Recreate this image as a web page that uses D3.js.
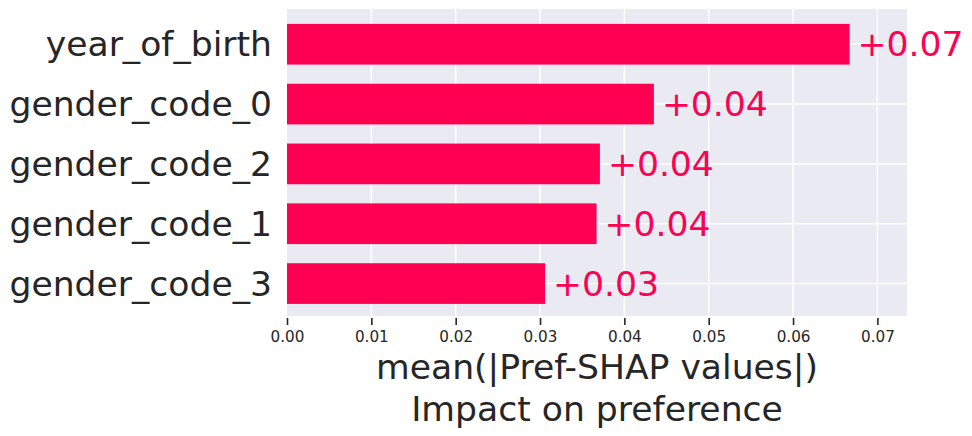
<!DOCTYPE html>
<html>
<head>
<meta charset="utf-8">
<script src="https://cdn.jsdelivr.net/npm/d3@7"></script>
<style>
  body { margin: 0; background: #fff; }
  svg { display: block; font-family: "DejaVu Sans", sans-serif; }
</style>
</head>
<body>
<div id="chart"></div>
<script>
// feature names, top to bottom
const features = ["year_of_birth", "gender_code_0", "gender_code_2", "gender_code_1", "gender_code_3"]
const meanAbsShap = [0.0667, 0.0435, 0.0371, 0.0367, 0.0306]
const valueLabels = ["+0.07", "+0.04", "+0.04", "+0.04", "+0.03"]
const xTicks = [0, 0.01, 0.02, 0.03, 0.04, 0.05, 0.06, 0.07]
const xTitle = ["mean(|Pref-SHAP values|)", "Impact on preference"]

const width = 972, height = 436
const margin = ({top: 9, right: 65, bottom: 120, left: 287})
const barColor = "#ff0052"
const bigFont = 34.6

const svg = d3.select("#chart").append("svg")
    .attr("width", width)
    .attr("height", height)

const xScale = d3.scaleLinear()
    .domain([0, 0.07351])
    .range([margin.left, width - margin.right])

const yScale = d3.scaleLinear()
    .domain([-0.589, features.length - 1 + 0.542])
    .range([margin.top, height - margin.bottom])

const plotBottom = height - margin.bottom

// background
svg.append("rect")
    .attr("x", margin.left)
    .attr("y", margin.top)
    .attr("width", xScale.range()[1] - margin.left)
    .attr("height", plotBottom - margin.top)
    .attr("fill", "#eaeaf2")

// grid
svg.append("g")
    .selectAll("line")
    .data(xTicks.slice(1))
    .join("line")
    .attr("x1", d => xScale(d))
    .attr("x2", d => xScale(d))
    .attr("y1", margin.top)
    .attr("y2", plotBottom)
    .attr("stroke", "#fff")
    .attr("stroke-width", 1.5)
svg.append("g")
    .selectAll("line")
    .data(features)
    .join("line")
    .attr("x1", margin.left)
    .attr("x2", xScale.range()[1])
    .attr("y1", (d, i) => yScale(i))
    .attr("y2", (d, i) => yScale(i))
    .attr("stroke", "#fff")
    .attr("stroke-width", 1.5)

// bars
const barH = yScale(0.68) - yScale(0)
svg.append("g")
    .selectAll("rect")
    .data(meanAbsShap)
    .join("rect")
    .attr("x", xScale(0))
    .attr("y", (d, i) => yScale(i) - barH / 2)
    .attr("width", d => xScale(d) - xScale(0))
    .attr("height", barH)
    .attr("fill", barColor)

// value labels
svg.append("g")
    .selectAll("text")
    .data(meanAbsShap)
    .join("text")
    .attr("x", d => xScale(d) + 8)
    .attr("y", (d, i) => yScale(i))
    .attr("dy", "0.35em")
    .attr("fill", barColor)
    .attr("font-size", bigFont)
    .text((d, i) => valueLabels[i])

// feature labels
svg.append("g")
    .selectAll("text")
    .data(features)
    .join("text")
    .attr("x", margin.left - 15)
    .attr("y", (d, i) => yScale(i))
    .attr("dy", "0.35em")
    .attr("text-anchor", "end")
    .attr("fill", "#262626")
    .attr("font-size", bigFont)
    .text(d => d)

// x axis
const xAxis = d3.axisBottom(xScale)
    .tickValues(xTicks)
    .tickFormat(d3.format(".2f"))
    .tickSize(7)
    .tickPadding(6)
const gx = svg.append("g")
    .attr("transform", `translate(0, ${plotBottom + 2})`)
    .call(xAxis)
gx.select(".domain").remove()
gx.selectAll(".tick line").attr("stroke", "#262626").attr("stroke-width", 1.6)
gx.selectAll(".tick text")
    .attr("fill", "#262626")
    .attr("font-size", 15.2)
    .attr("font-family", "DejaVu Sans")

// axis title
svg.append("g")
    .selectAll("text")
    .data(xTitle)
    .join("text")
    .attr("x", (margin.left + xScale.range()[1]) / 2)
    .attr("y", (d, i) => 379 + i * 42)
    .attr("text-anchor", "middle")
    .attr("fill", "#262626")
    .attr("font-size", bigFont)
    .text(d => d)
</script>
</body>
</html>
